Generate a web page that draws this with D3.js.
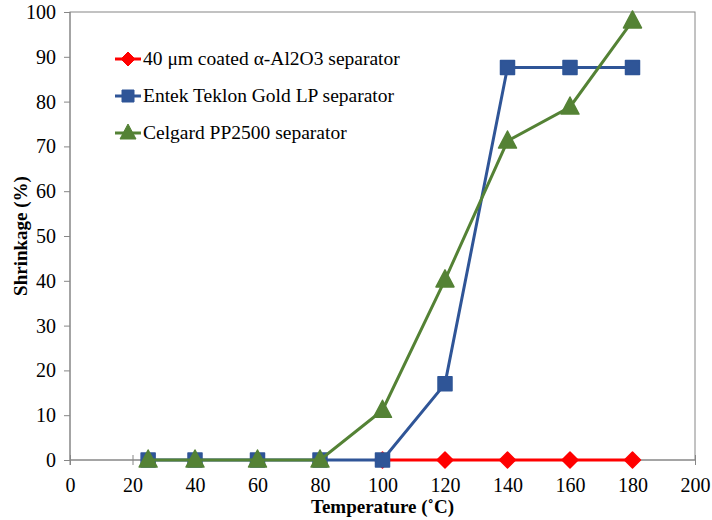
<!DOCTYPE html>
<head>
	<script src="https://d3js.org/d3.v7.min.js"></script>
	<style>
		body { margin: 0; background: #fff; }
	</style>
</head>
<body>
	<script>
		// data
		var xTicks = [0, 20, 40, 60, 80, 100, 120, 140, 160, 180, 200];
		var yTicks = [0, 10, 20, 30, 40, 50, 60, 70, 80, 90, 100];
		var alumTemp = [100, 120, 140, 160, 180];
		var alumVals = [0, 0, 0, 0, 0];
		var entekTemp = [25, 40, 60, 80, 100, 120, 140, 160, 180];
		var entekVals = [0, 0, 0, 0, 0, 17, 87.6, 87.6, 87.6];
		var celgardTemp = [25, 40, 60, 80, 100, 120, 140, 160, 180];
		var celgardVals = [0, 0, 0, 0, 11.1, 40.2, 71.2, 78.8, 98];
		var names = ["40 \u03bcm coated \u03b1-Al2O3 separator", "Entek Teklon Gold LP separator", "Celgard PP2500 separator"];

		var series = [
			{ name: names[0], x: alumTemp, y: alumVals, color: "#ff0000", shape: "diamond" },
			{ name: names[1], x: entekTemp, y: entekVals, color: "#2f5597", shape: "square" },
			{ name: names[2], x: celgardTemp, y: celgardVals, color: "#548235", shape: "triangle" }
		];

		var font = "'Liberation Serif', 'Times New Roman', Times, serif";
		var width = 712, height = 520;
		var margin = { top: 12, right: 17, bottom: 60, left: 70 };

		var xScale = d3.scaleLinear().domain([0, 200]).range([margin.left, width - margin.right]);
		var yScale = d3.scaleLinear().domain([0, 100]).range([height - margin.bottom, margin.top]);

		var svg = d3.select("body").append("svg")
			.attr("width", width)
			.attr("height", height);

		// plot border
		svg.append("rect")
			.attr("x", xScale(0))
			.attr("y", yScale(100))
			.attr("width", xScale(200) - xScale(0))
			.attr("height", yScale(0) - yScale(100))
			.attr("fill", "none")
			.attr("stroke", "#868686")
			.attr("stroke-width", 1);

		// axes
		var axisX = svg.append("g")
			.attr("transform", "translate(0," + yScale(0) + ")")
			.call(d3.axisBottom(xScale).tickValues(xTicks).tickSize(5).tickPadding(13).tickFormat(d3.format("d")));
		axisX.selectAll(".tick line").attr("y1", -5).attr("y2", 5);
		axisX.select(".domain").remove();

		var axisY = svg.append("g")
			.attr("transform", "translate(" + xScale(0) + ",0)")
			.call(d3.axisLeft(yScale).tickValues(yTicks).tickSize(6).tickPadding(8).tickFormat(d3.format("d")));
		axisY.select(".domain").remove();

		svg.selectAll(".tick line").attr("stroke", "#868686").attr("stroke-width", 1);
		svg.selectAll(".tick text")
			.style("font-family", font)
			.style("font-size", "20px")
			.attr("fill", "#000");

		svg.append("line")
			.attr("x1", xScale(0)).attr("x2", xScale(200))
			.attr("y1", yScale(0)).attr("y2", yScale(0))
			.attr("stroke", "#868686");
		svg.append("line")
			.attr("x1", xScale(0)).attr("x2", xScale(0))
			.attr("y1", yScale(100)).attr("y2", yScale(0) + 5)
			.attr("stroke", "#868686");

		// titles
		svg.append("text")
			.text("Temperature (\u02daC)")
			.style("font-family", font)
			.style("font-size", "19px")
			.style("font-weight", "bold")
			.attr("text-anchor", "middle")
			.attr("x", (xScale(0) + xScale(200)) / 2)
			.attr("y", 513);
		svg.append("text")
			.text("Shrinkage (%)")
			.style("font-family", font)
			.style("font-size", "19px")
			.style("font-weight", "bold")
			.attr("text-anchor", "middle")
			.attr("transform", "translate(" + [27, (yScale(0) + yScale(100)) / 2] + ") rotate(-90)");

		// markers
		function marker(shape, size) {
			var s = size / 2;
			if (shape === "diamond") return "M0," + (-s - 1) + "L" + (s + 1) + ",0L0," + (s + 1) + "L" + (-s - 1) + ",0Z";
			if (shape === "square") return "M" + (-s) + "," + (-s) + "h" + size + "v" + size + "h" + (-size) + "Z";
			return "M0," + (-s - 3) + "L" + (s + 2) + "," + (s) + "L" + (-s - 2) + "," + (s) + "Z";
		}

		var line = d3.line()
			.x(function(d) { return xScale(d[0]); })
			.y(function(d) { return yScale(d[1]); });

		series.forEach(function(sr) {
			var pts = sr.x.map(function(t, i) { return [t, sr.y[i]]; });
			var g = svg.append("g");
			g.append("path")
				.attr("d", line(pts))
				.attr("fill", "none")
				.attr("stroke", sr.color)
				.attr("stroke-width", 3);
			g.selectAll("path.m")
				.data(pts)
				.enter()
				.append("path")
				.attr("class", "m")
				.attr("d", marker(sr.shape, 14))
				.attr("transform", function(d) { return "translate(" + [xScale(d[0]), yScale(d[1])] + ")"; })
				.attr("fill", sr.color)
				.attr("stroke", sr.color)
				.attr("stroke-width", 1.5)
				.attr("stroke-linejoin", "round");
		});

		// legend
		var legend = svg.append("g");
		series.forEach(function(sr, i) {
			var y = 59 + i * 37;
			legend.append("line")
				.attr("x1", 115).attr("x2", 141)
				.attr("y1", y).attr("y2", y)
				.attr("stroke", sr.color)
				.attr("stroke-width", 3);
			legend.append("path")
				.attr("d", marker(sr.shape, 12))
				.attr("transform", "translate(" + [128, y] + ")")
				.attr("fill", sr.color)
				.attr("stroke", sr.color)
				.attr("stroke-linejoin", "round");
			legend.append("text")
				.text(sr.name)
				.style("font-family", font)
				.style("font-size", "19.5px")
				.attr("fill", "#000")
				.attr("x", 143)
				.attr("y", y + 6);
		});
	</script>
</body>
</html>
